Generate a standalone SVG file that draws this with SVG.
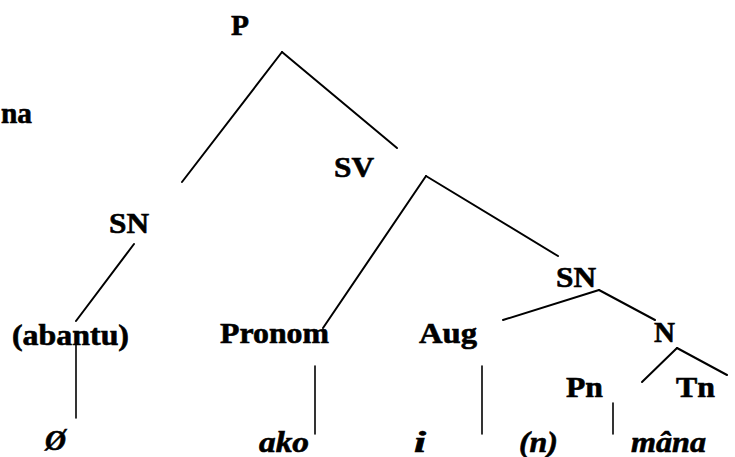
<svg xmlns="http://www.w3.org/2000/svg" width="735" height="457" viewBox="0 0 735 457">
<style>
text{font-family:"Liberation Serif","Times New Roman",serif;font-weight:bold;font-size:29px;fill:#000;stroke:#000;stroke-width:0.6}
.it{font-style:italic}
line{stroke:#000;stroke-width:2;stroke-linecap:round}
.v{stroke-width:1.6}
</style>
<rect width="735" height="457" fill="#fff"/>
<g id="connectors">
<line x1="282" y1="52" x2="182" y2="182"/>
<line x1="282" y1="52" x2="397" y2="148"/>
<line x1="134" y1="244" x2="76" y2="321"/>
<line class="v" x1="76" y1="340" x2="76" y2="418"/>
<line x1="426" y1="176" x2="323" y2="328"/>
<line x1="426" y1="176" x2="558" y2="256"/>
<line class="v" x1="315" y1="366" x2="315" y2="434"/>
<line x1="599" y1="290" x2="503" y2="320"/>
<line x1="599" y1="290" x2="655" y2="320"/>
<line class="v" x1="482" y1="366" x2="482" y2="434"/>
<line x1="677" y1="348" x2="642" y2="382"/>
<line x1="677" y1="348" x2="727" y2="375"/>
<line class="v" x1="613" y1="403" x2="613" y2="434"/>
</g>
<g id="n-P"><text x="231" y="35" textLength="18" lengthAdjust="spacingAndGlyphs">P</text></g>
<g id="n-na"><text x="1" y="123" textLength="31" lengthAdjust="spacingAndGlyphs">na</text></g>
<g id="n-SV"><text x="334" y="177" textLength="40" lengthAdjust="spacingAndGlyphs">SV</text></g>
<g id="n-SN1"><text x="109" y="233" textLength="40" lengthAdjust="spacingAndGlyphs">SN</text></g>
<g id="n-SN2"><text x="556" y="287" textLength="40" lengthAdjust="spacingAndGlyphs">SN</text></g>
<g id="n-abantu"><text x="12" y="345" textLength="117" lengthAdjust="spacingAndGlyphs">(abantu)</text></g>
<g id="n-Pronom"><text x="220" y="343" textLength="109" lengthAdjust="spacingAndGlyphs">Pronom</text></g>
<g id="n-Aug"><text x="419" y="343" textLength="58" lengthAdjust="spacingAndGlyphs">Aug</text></g>
<g id="n-N"><text x="654" y="342" textLength="21" lengthAdjust="spacingAndGlyphs">N</text></g>
<g id="n-Pn"><text x="566" y="397" textLength="37" lengthAdjust="spacingAndGlyphs">Pn</text></g>
<g id="n-Tn"><text x="676" y="397" textLength="39" lengthAdjust="spacingAndGlyphs">Tn</text></g>
<g id="n-zero"><text class="it" x="45" y="450">Ø</text></g>
<g id="n-ako"><text class="it" x="259" y="452" textLength="50" lengthAdjust="spacingAndGlyphs">ako</text></g>
<g id="n-i"><text class="it" x="414" y="452" textLength="12" lengthAdjust="spacingAndGlyphs">i</text></g>
<g id="n-n"><text class="it" x="519" y="452" textLength="39" lengthAdjust="spacingAndGlyphs">(n)</text></g>
<g id="n-mana"><text class="it" x="631" y="452" textLength="75" lengthAdjust="spacingAndGlyphs">mâna</text></g>
</svg>
